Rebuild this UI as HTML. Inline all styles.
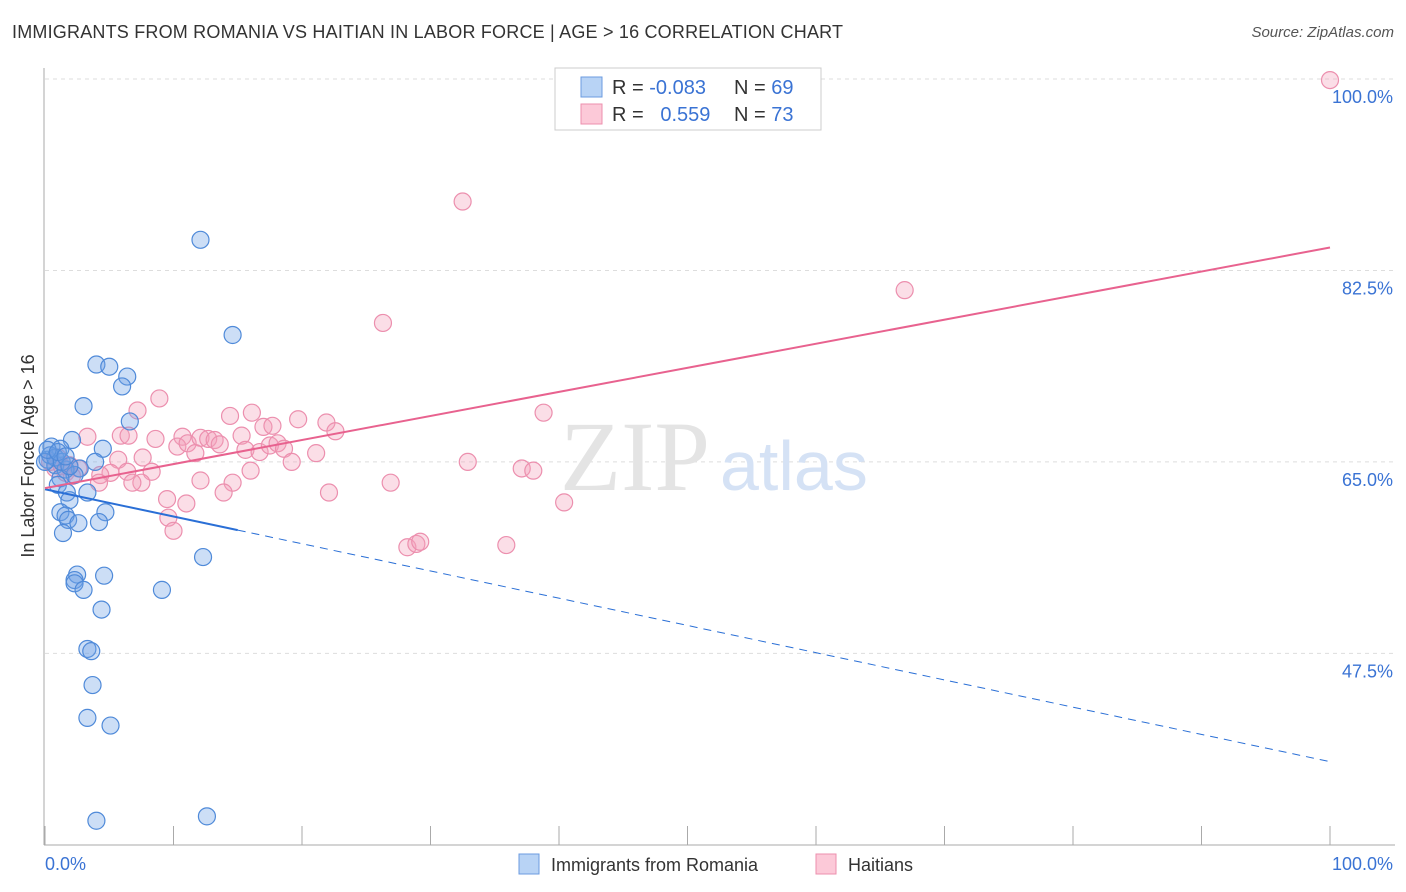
<!DOCTYPE html>
<html><head><meta charset="utf-8">
<style>
body{margin:0;background:#fff;font-family:"Liberation Sans",sans-serif;}
#wrap{position:relative;width:1406px;height:892px;overflow:hidden;}
.title{position:absolute;left:12px;top:22px;font-size:18px;color:#333;letter-spacing:0.2px;}
.source{position:absolute;right:12px;top:24px;font-size:15px;color:#555;font-style:italic;}
</style></head>
<body>
<div id="wrap">
<div class="title">IMMIGRANTS FROM ROMANIA VS HAITIAN IN LABOR FORCE | AGE &gt; 16 CORRELATION CHART</div>
<div class="source">Source: ZipAtlas.com</div>
<svg id="chart" width="1406" height="892" style="position:absolute;left:0;top:0"></svg>
</div>
<script>
const yTicks=[100,82.5,65,47.5];
const yTickLabels=["100.0%","82.5%","65.0%","47.5%"];
const xTicks=[0,10,20,30,40,50,60,70,80,90,100];
const blueX=[12.1,14.6,4.0,5.0,6.4,6.0,3.0,6.6,0.5,2.1,4.5,1.2,3.9,2.7,0.2,0.8,1.6,2.3,1.2,1.0,3.3,1.7,1.9,1.2,1.6,1.8,4.7,4.2,2.6,1.4,12.3,2.5,4.6,2.3,2.3,3.0,9.1,4.4,3.3,3.6,3.7,3.3,5.1,4.0,12.6,0.4,0.8,1.3,1.9,0.0,0.2,1.0,1.6];
const blueY=[85.3,76.6,73.9,73.7,72.8,71.9,70.1,68.7,66.4,67.0,66.2,66.2,65.0,64.4,65.2,64.7,64.3,63.8,63.5,62.9,62.2,62.2,61.5,60.4,60.1,59.7,60.4,59.5,59.4,58.5,56.3,54.7,54.6,54.2,53.9,53.3,53.3,51.5,47.9,47.7,44.6,41.6,40.9,32.2,32.6,65.6,65.4,65.0,64.6,65.0,66.1,65.9,65.5];
const pinkX=[100,32.5,66.9,26.3,38.8,14.4,16.1,19.7,21.9,22.6,17.0,17.7,8.9,7.2,3.3,5.9,6.5,8.6,10.7,10.3,11.1,12.1,12.7,13.2,13.6,11.7,15.3,15.6,16.7,17.5,18.1,18.6,21.1,19.2,7.6,5.7,8.3,6.4,5.1,4.3,2.6,1.9,16.0,12.1,14.6,13.9,7.5,6.8,9.5,11.0,22.1,9.6,10.0,4.2,26.9,32.9,37.1,38.0,40.4,35.9,28.2,28.9,29.2,0.8,1.3,0.4,1.6,1.0,2.1];
const pinkY=[99.9,88.8,80.7,77.7,69.5,69.2,69.5,68.9,68.6,67.8,68.2,68.3,70.8,69.7,67.3,67.4,67.4,67.1,67.3,66.4,66.7,67.2,67.1,67.0,66.6,65.8,67.4,66.1,65.9,66.5,66.7,66.2,65.8,65.0,65.4,65.2,64.1,64.1,64.0,63.8,64.4,64.7,64.2,63.3,63.1,62.2,63.1,63.1,61.6,61.2,62.2,59.9,58.7,63.1,63.1,65.0,64.4,64.2,61.3,57.4,57.2,57.5,57.7,64.4,64.6,65.0,64.0,65.4,63.7];
const blueTrend=[62.5,37.6]; // y at x=0 and x=100
const blueSolidEnd=15;
const pinkTrend=[62.6,84.6];

const NS="http://www.w3.org/2000/svg";
const svg=document.getElementById('chart');
const X=v=>45+v*12.85;
const Y=v=>79+(100-v)*10.94;
function mk(t,a,p){const e=document.createElementNS(NS,t);for(const k in a)e.setAttribute(k,a[k]);(p||svg).appendChild(e);return e;}

// gridlines and y labels
yTicks.forEach((t,i)=>{
  const g=mk('line',{x1:45,x2:1395,y1:Y(t),y2:Y(t),stroke:'#ddd','stroke-dasharray':'4,4','stroke-width':1});
  
  
  const tx=mk('text',{x:1393,y:Y(t)+24,'text-anchor':'end','font-size':18,fill:'#3a73d4','font-family':'Liberation Sans, sans-serif'});
  tx.textContent=yTickLabels[i];
  
  
});
// axes
const ax=mk('line',{x1:44,x2:44,y1:68,y2:845,stroke:'#aaa','stroke-width':1});


const bx=mk('line',{x1:44,x2:1395,y1:845,y2:845,stroke:'#aaa','stroke-width':1});


xTicks.forEach(t=>{
  const l=mk('line',{x1:X(t),x2:X(t),y1:826,y2:845,stroke:'#aaa','stroke-width':1});
  
  
});
// watermark
const wm=mk('text',{x:720,y:490,'text-anchor':'middle','font-size':100,fill:'#e4e4e4','font-family':'Liberation Serif, serif'});
wm.textContent='ZIP';


wm.setAttribute('x',635);
const wm2=mk('text',{x:720,y:490,'font-size':70,fill:'#d5e2f5','font-family':'Liberation Sans, sans-serif'});
wm2.textContent='atlas';



// points
function pts(xs,ys,fill,stroke,name){
  xs.forEach((x,i)=>{
    const c=mk('circle',{cx:X(x),cy:Y(ys[i]),r:8.5,fill:fill,stroke:stroke,'stroke-width':1.2});
    
    
  });
}
pts(pinkX,pinkY,'rgba(244,160,185,0.35)','#ec8fae','haitian-point');
pts(blueX,blueY,'rgba(110,160,230,0.35)','#4f8ad9','romania-point');

// trend lines
const bAt=x=>blueTrend[0]+(blueTrend[1]-blueTrend[0])*x/100;
const bl1=mk('line',{x1:X(0),y1:Y(bAt(0)),x2:X(blueSolidEnd),y2:Y(bAt(blueSolidEnd)),stroke:'#2a6fd6','stroke-width':2});


const bl2=mk('line',{x1:X(blueSolidEnd),y1:Y(bAt(blueSolidEnd)),x2:X(100),y2:Y(bAt(100)),stroke:'#2a6fd6','stroke-width':1,'stroke-dasharray':'8,6'});


const pl=mk('line',{x1:X(0),y1:Y(pinkTrend[0]),x2:X(100),y2:Y(pinkTrend[1]),stroke:'#e8628f','stroke-width':2});



// x labels
[['0.0%',45,'start'],['100.0%',1393,'end']].forEach(([s,x,a])=>{
  const t=mk('text',{x:x,y:870,'text-anchor':a,'font-size':18,fill:'#3a73d4','font-family':'Liberation Sans, sans-serif'});
  t.textContent=s;
  
  
});
// y title
const yt=mk('text',{x:0,y:0,transform:'translate(34,456) rotate(-90)','text-anchor':'middle','font-size':18,fill:'#333','font-family':'Liberation Sans, sans-serif'});
yt.textContent='In Labor Force | Age > 16';



// stats legend
const lg=mk('rect',{x:555,y:68,width:266,height:62,fill:'#fff',stroke:'#ccc'});


function row(y,fill,stroke,r,n,name){
  const s=mk('rect',{x:581,y:y-15,width:21,height:20,fill:fill,stroke:stroke});
  
  
  const t=mk('text',{x:612,y:y+2,'font-size':20,fill:'#333','font-family':'Liberation Sans, sans-serif'});
  t.innerHTML='R = <tspan fill="#3a73d4">'+r+'</tspan>';
  
  
  const t2=mk('text',{x:734,y:y+2,'font-size':20,fill:'#333','font-family':'Liberation Sans, sans-serif'});
  t2.innerHTML='N = <tspan fill="#3a73d4">'+n+'</tspan>';
  
  
}
row(92,'#b8d3f5','#6b9be0','-0.083','69','romania');
row(119,'#fcc9d8','#ec8fae','\u00a0\u00a00.559','73','haitian');

// bottom legend
function leg(x,fill,stroke,label,name){
  const s=mk('rect',{x:x,y:854,width:20,height:20,fill:fill,stroke:stroke});
  
  
  const t=mk('text',{x:x+32,y:871,'font-size':18,fill:'#333','font-family':'Liberation Sans, sans-serif'});
  t.textContent=label;
  
  
}
leg(519,'#b8d3f5','#6b9be0','Immigrants from Romania','romania');
leg(816,'#fcc9d8','#ec8fae','Haitians','haitian');
</script>
</body></html>
